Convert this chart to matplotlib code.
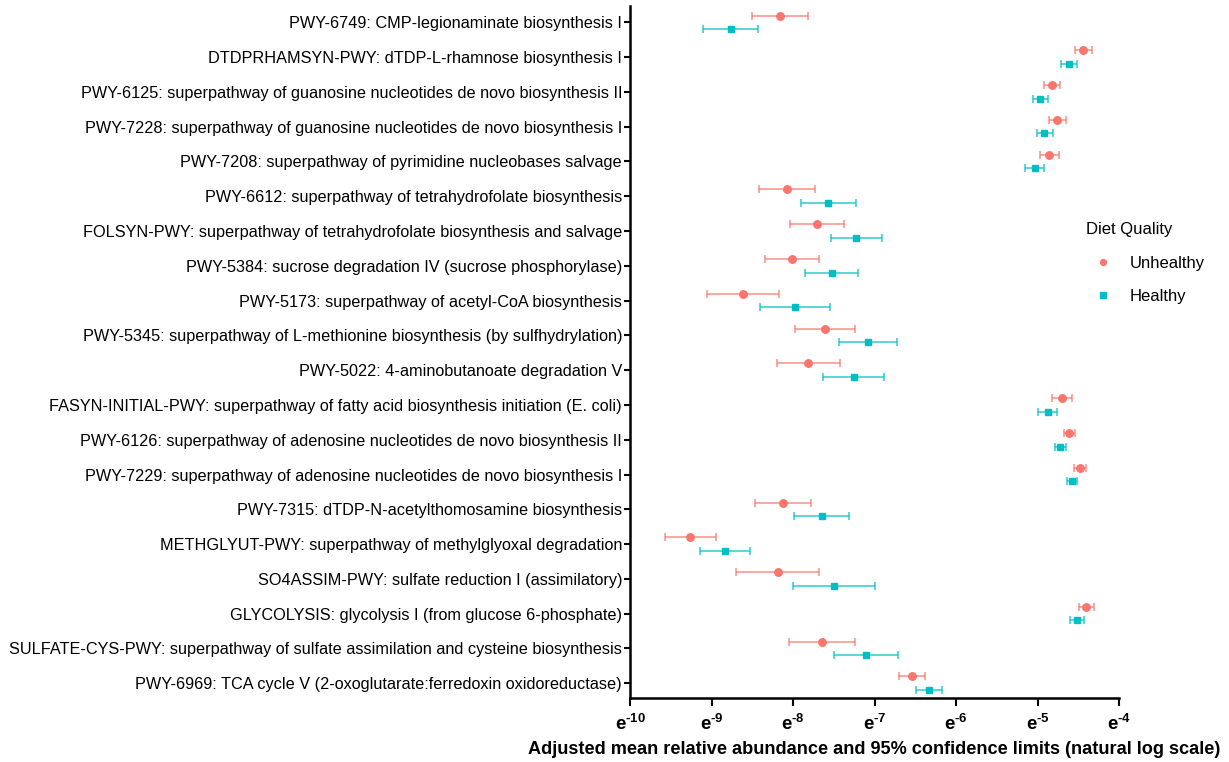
import numpy as np
import matplotlib
matplotlib.use("Agg")
import matplotlib.pyplot as plt
from matplotlib.lines import Line2D
from matplotlib.ticker import FixedLocator, FuncFormatter, NullLocator

plt.rcParams['font.family'] = ['Liberation Sans', 'DejaVu Sans']
plt.rcParams['mathtext.fontset'] = 'custom'
plt.rcParams['mathtext.rm'] = 'Liberation Sans:bold'
plt.rcParams['mathtext.bf'] = 'Liberation Sans:bold'

pathways = [
    "PWY-6749: CMP-legionaminate biosynthesis I",
    "DTDPRHAMSYN-PWY: dTDP-L-rhamnose biosynthesis I",
    "PWY-6125: superpathway of guanosine nucleotides de novo biosynthesis II",
    "PWY-7228: superpathway of guanosine nucleotides de novo biosynthesis I",
    "PWY-7208: superpathway of pyrimidine nucleobases salvage",
    "PWY-6612: superpathway of tetrahydrofolate biosynthesis",
    "FOLSYN-PWY: superpathway of tetrahydrofolate biosynthesis and salvage",
    "PWY-5384: sucrose degradation IV (sucrose phosphorylase)",
    "PWY-5173: superpathway of acetyl-CoA biosynthesis",
    "PWY-5345: superpathway of L-methionine biosynthesis (by sulfhydrylation)",
    "PWY-5022: 4-aminobutanoate degradation V",
    "FASYN-INITIAL-PWY: superpathway of fatty acid biosynthesis initiation (E. coli)",
    "PWY-6126: superpathway of adenosine nucleotides de novo biosynthesis II",
    "PWY-7229: superpathway of adenosine nucleotides de novo biosynthesis I",
    "PWY-7315: dTDP-N-acetylthomosamine biosynthesis",
    "METHGLYUT-PWY: superpathway of methylglyoxal degradation",
    "SO4ASSIM-PWY: sulfate reduction I (assimilatory)",
    "GLYCOLYSIS: glycolysis I (from glucose 6-phosphate)",
    "SULFATE-CYS-PWY: superpathway of sulfate assimilation and cysteine biosynthesis",
    "PWY-6969: TCA cycle V (2-oxoglutarate:ferredoxin oxidoreductase)",
]

# natural-log values of adjusted means and 95% CL
unhealthy_ln = [-8.16, -4.44, -4.82, -4.76, -4.86, -8.08, -7.71, -8.02, -8.62, -7.61,
                -7.82, -4.70, -4.61, -4.48, -8.13, -9.27, -8.19, -4.40, -7.65, -6.54]
unhealthy_lo = [-8.51, -4.54, -4.92, -4.86, -4.97, -8.42, -8.04, -8.35, -9.06, -7.98,
                -8.20, -4.82, -4.68, -4.55, -8.47, -9.58, -8.70, -4.49, -8.05, -6.70]
unhealthy_hi = [-7.82, -4.33, -4.72, -4.65, -4.74, -7.73, -7.38, -7.68, -8.18, -7.24,
                -7.43, -4.58, -4.54, -4.41, -7.78, -8.95, -7.68, -4.31, -7.24, -6.38]

healthy_ln = [-8.77, -4.61, -4.97, -4.92, -5.03, -7.57, -7.23, -7.53, -7.98, -7.08,
              -7.26, -4.87, -4.72, -4.58, -7.65, -8.84, -7.50, -4.52, -7.11, -6.33]
healthy_lo = [-9.11, -4.71, -5.06, -5.01, -5.15, -7.91, -7.54, -7.85, -8.41, -7.44,
              -7.64, -4.99, -4.78, -4.64, -7.99, -9.14, -8.00, -4.60, -7.50, -6.49]
healthy_hi = [-8.43, -4.51, -4.87, -4.81, -4.92, -7.23, -6.91, -7.21, -7.55, -6.72,
              -6.88, -4.76, -4.65, -4.51, -7.31, -8.53, -7.00, -4.43, -6.71, -6.17]

x_ticks_exp = [-10, -9, -8, -7, -6, -5, -4]
groups = ["Unhealthy", "Healthy"]
colors = ["#F8766D", "#00BFC4"]

fig = plt.figure(figsize=(12.29, 7.62), dpi=100)
ax = fig.add_axes([0.5129, 0.0846, 0.3976, 0.9079])

ypos = np.arange(len(pathways))
off = 0.195
series = [
    (unhealthy_ln, unhealthy_lo, unhealthy_hi, -off, 'o', 5.4),
    (healthy_ln, healthy_lo, healthy_hi, off, 's', 5.0),
]
for (m, lo, hi, dy, mk, ms), c in zip(series, colors):
    m = np.exp(np.array(m)); lo = np.exp(np.array(lo)); hi = np.exp(np.array(hi))
    ax.errorbar(m, ypos + dy, xerr=[m - lo, hi - m], fmt='none', ecolor=c,
                alpha=0.75, elinewidth=1.2, capsize=2.8, capthick=1.2, zorder=2)
    ax.plot(m, ypos + dy, linestyle='none', marker=mk, ms=ms, color=c, zorder=3)

ax.set_xscale('log', base=np.e)
ax.set_xlim(np.exp(-10), np.exp(-4))
ax.xaxis.set_major_locator(FixedLocator([np.exp(v) for v in x_ticks_exp]))
ax.xaxis.set_minor_locator(NullLocator())
ax.xaxis.set_major_formatter(FuncFormatter(
    lambda v, p: r'$\mathrm{e}^{\text{-%d}}$' % abs(int(round(np.log(v))))))
ax.set_ylim(19.41, -0.477)
ax.set_yticks(ypos)
ax.set_yticklabels(pathways, fontsize=11.7)
ax.tick_params(axis='y', length=4, width=1.5, pad=2, colors='black')
ax.tick_params(axis='x', length=6, width=1.5, pad=5, labelsize=13.5)
for s in ['top', 'right']:
    ax.spines[s].set_visible(False)
for s in ['left', 'bottom']:
    ax.spines[s].set_linewidth(1.8)

ax.set_xlabel("Adjusted mean relative abundance and 95% confidence limits (natural log scale)",
              fontsize=13.1, fontweight='bold', labelpad=5)

handles = [Line2D([], [], linestyle='none', marker='o', ms=4.2, color=colors[0]),
           Line2D([], [], linestyle='none', marker='s', ms=3.8, color=colors[1])]
leg = fig.legend(handles, groups, title="Diet Quality", loc='upper left',
                 bbox_to_anchor=(0.8785, 0.717), frameon=False, fontsize=12,
                 title_fontsize=12, handletextpad=0.6, labelspacing=1.1,
                 borderaxespad=0)
leg._legend_box.align = "left"

fig.savefig("out.png", dpi=100)
